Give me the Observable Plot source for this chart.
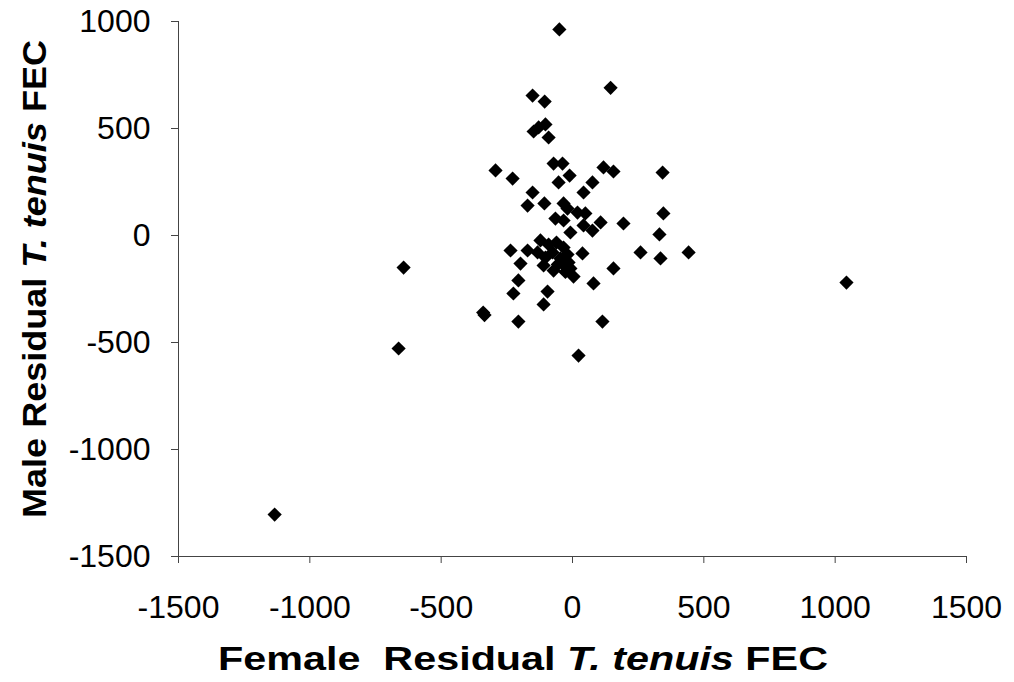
<!DOCTYPE html>
<html><head><meta charset="utf-8">
<script src="https://cdn.jsdelivr.net/npm/d3@7"></script>
<script src="https://cdn.jsdelivr.net/npm/@observablehq/plot@0.6"></script>
<style>body{margin:0;background:#fff}</style>
</head><body><div id="chart"></div>
<script>
const femaleResidual = [
  -50, 145, -152, -106, -103, -129, -148, -91, -72, -38,
  -293, -228, 118, 156, 343, -53, -11, 76, 42, -152,
  -171, -107, -34, -19, 19, 49, -65, 107, 194, 346,
  -8, 42, 76, 331, -34, -236, -171, 259, 335, 442,
  38, -198, 156, -206, -225, -95, -110, 80, -340, -335,
  -206, 114, 23, -643, -662, -1134, 1043, -122, -91, -61,
  -34, -133, -103, -76, -46, -19, -110, -72, -38, -8,
  4, -15, -56, -27
];
const maleResidual = [
  963, 690, 654, 626, 519, 505, 486, 458, 336, 336,
  304, 266, 318, 299, 294, 248, 280, 248, 201, 201,
  140, 150, 150, 126, 107, 103, 79, 61, 56, 103,
  14, 47, 23, 5, 70, -70, -70, -79, -107, -79,
  -84, -131, -154, -210, -271, -262, -322, -224, -360, -372,
  -402, -402, -561, -150, -528, -1304, -220, -23, -42, -33,
  -56, -79, -103, -79, -107, -89, -140, -164, -131, -154,
  -192, -126, -135, -170
];
const xTicks = [-1500, -1000, -500, 0, 500, 1000, 1500];
const yTicks = [-1500, -1000, -500, 0, 500, 1000];
const xTitle = ["Female  Residual ", "T. tenuis", " FEC"];
const yTitle = ["Male Residual ", "T. tenuis", " FEC"];

const data = femaleResidual.map((x, i) => ({x, y: maleResidual[i]}));

const chart = Plot.plot({
  width: 1014, height: 682,
  marginLeft: 178, marginRight: 48, marginTop: 21, marginBottom: 126,
  style: {fontFamily: "'Liberation Sans', Arial, sans-serif", fontSize: "32px", color: "#000", background: "#fff"},
  x: {domain: [-1500, 1500], ticks: xTicks, tickSize: 7, tickPadding: 32, label: null, tickFormat: d => String(d)},
  y: {domain: [-1500, 1000], ticks: yTicks, tickSize: 7, tickPadding: 21, label: null, tickFormat: d => String(d)},
  marks: [
    Plot.ruleY([-1500], {stroke: "#444", strokeWidth: 1}),
    Plot.ruleX([-1500], {stroke: "#444", strokeWidth: 1}),
    Plot.dot(data, {x: "x", y: "y", symbol: "diamond2", r: 6.4, fill: "#000", stroke: "none"})
  ]
});
document.getElementById("chart").appendChild(chart);

const svg = d3.select(chart);
svg.selectAll("g[aria-label$='tick'] path, g[aria-label$='tick'] line").attr("stroke", "#444");

function addTitle(parts, attrs, len) {
  const t = svg.append("text")
    .attr("font-family", "'Liberation Sans', Arial, sans-serif")
    .attr("font-size", 33)
    .attr("font-weight", "bold")
    .attr("fill", "#000")
    .attr("text-anchor", "middle")
    .attr("textLength", len)
    .attr("lengthAdjust", "spacingAndGlyphs")
    .style("white-space", "pre");
  Object.entries(attrs).forEach(([k, v]) => t.attr(k, v));
  parts.forEach((p, i) => t.append("tspan").attr("font-style", i === 1 ? "italic" : "normal").text(p));
}
addTitle(xTitle, {x: 523, y: 670}, 610);
addTitle(yTitle, {transform: "translate(46,279) rotate(-90)"}, 478);
</script>
</body></html>
